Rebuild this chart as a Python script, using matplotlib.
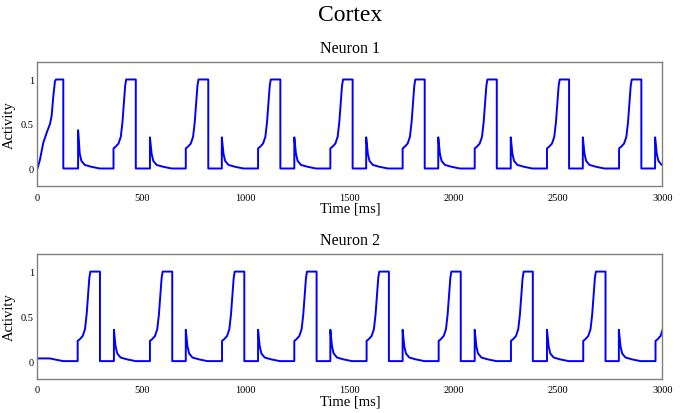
import matplotlib
matplotlib.use('Agg')
import matplotlib.pyplot as plt

plt.rcParams['font.family'] = ['Liberation Serif', 'DejaVu Serif']

# Event times [ms]
n1_on = [365, 712, 1059, 1406, 1753, 2099, 2446, 2792]
n1_off = [124, 472, 820, 1166, 1513, 1859, 2205, 2552, 2899]
n1_spk = [195, 540, 885, 1233, 1578, 1924, 2272, 2618, 2965]
n1_peak = [0.43, 0.35, 0.35, 0.35, 0.35, 0.35, 0.35, 0.35, 0.35]

n2_on = [193, 540, 886, 1233, 1580, 1926, 2273, 2620, 2967]
n2_off = [300, 647, 993, 1340, 1687, 2032, 2378, 2727]
n2_spk = [367, 712, 1059, 1406, 1753, 2099, 2446, 2791]
n2_peak = [0.35, 0.35, 0.35, 0.35, 0.35, 0.35, 0.35, 0.35]

# start of each trace (before the first event)
n1_start_t = [0, 12, 28, 44, 60, 68, 76, 84, 89]
n1_start_v = [0, 0.10, 0.29, 0.40, 0.50, 0.59, 0.81, 0.98, 1.0]
n2_start_t = [0, 60, 90, 124]
n2_start_v = [0.03, 0.03, 0.015, 0]

# burst rise shape (ms after onset) and rebound decay shape (ms after spike)
rise_dt = [0, 0, 10, 24, 35, 43, 50, 56, 61]
rise_v = [0, 0.226, 0.244, 0.28, 0.356, 0.52, 0.74, 0.93, 1.0]
decay_dt = [8, 16, 32, 64, 104]
decay_v = [0.165, 0.085, 0.04, 0.019, 0.0]


def trace(start_t, start_v, on, off, spk, peak):
    t = list(start_t)
    v = list(start_v)
    events = [(x, 'on', None) for x in on] + [(x, 'off', None) for x in off]
    events += [(x, 'spk', p) for x, p in zip(spk, peak)]
    for x, kind, p in sorted(events):
        if kind == 'on':
            t += [x + d for d in rise_dt]
            v += rise_v
        elif kind == 'off':
            t += [x, x]
            v += [1.0, 0.0]
        else:
            t += [x, x] + [x + d for d in decay_dt]
            v += [0.0, p] + decay_v
    return t, v


fig = plt.figure(figsize=(6.8, 4.14), dpi=100)
fig.text(0.515, 0.963, 'Cortex', fontsize=17, ha='center', va='center')

boxes = [[0.0551, 0.5476, 0.919, 0.301], [0.0551, 0.0821, 0.919, 0.3027]]
data = [(n1_start_t, n1_start_v, n1_on, n1_off, n1_spk, n1_peak),
        (n2_start_t, n2_start_v, n2_on, n2_off, n2_spk, n2_peak)]

for i, (box, d) in enumerate(zip(boxes, data)):
    ax = fig.add_axes(box)
    t, v = trace(*d)
    ax.plot(t, v, color='#0000ff', lw=1.4)
    ax.set_xlim(0, 3000)
    ax.set_ylim(-0.2, 1.2)
    ax.set_xticks([0, 500, 1000, 1500, 2000, 2500, 3000])
    ax.set_yticks([0, 0.5, 1])
    ax.set_yticklabels(['0', '0.5', '1'])
    ax.tick_params(length=0, labelsize=7.5)
    ax.tick_params(axis='x', pad=4.5)
    ax.tick_params(axis='y', pad=2.5)
    for s in ax.spines.values():
        s.set_color('#808080')
        s.set_linewidth(1.0)
    ax.set_title('Neuron %d' % (i + 1), fontsize=11.5, pad=7)
    ax.set_xlabel('Time [ms]', fontsize=10.5)
    ax.set_ylabel('Activity', fontsize=10.5)
    ax.xaxis.set_label_coords(0.5, -0.125)
    ax.yaxis.set_label_coords(-0.035, 0.5)

fig.savefig('out.png', dpi=100)
